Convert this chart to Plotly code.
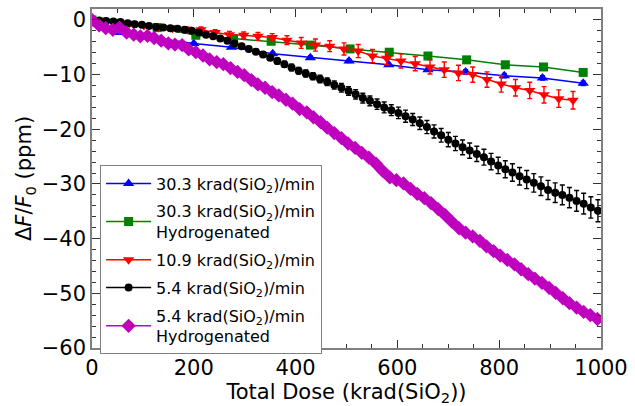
import plotly.graph_objects as go

# ---- data: frequency shift vs total dose for each dose rate ----
dose_303 = [0, 49, 200, 274, 355, 429, 505, 583, 660, 734, 810, 885, 965]
shift_303 = [0, -2.3, -4.3, -5.0, -6.2, -6.9, -7.5, -8.2, -9.1, -9.5, -10.2, -10.6, -11.6]
err_303 = [0, 0.2, 0.2, 0.2, 0.3, 0.3, 0.3, 0.3, 0.3, 0.4, 0.4, 0.4, 0.4]

dose_303h = [0, 128, 204, 278, 352, 429, 507, 584, 660, 736, 812, 887, 965]
shift_303h = [0, -1.4, -2.8, -3.4, -3.9, -4.6, -5.3, -5.9, -6.6, -7.3, -8.2, -8.6, -9.6]
err_303h = [0, 0.2, 0.2, 0.2, 0.2, 0.3, 0.3, 0.3, 0.3, 0.3, 0.4, 0.4, 0.5]

dose_109 = [0, 17, 46, 74, 102, 130, 158, 186, 214, 242, 270, 298, 326, 354, 383, 411,
            439, 467, 495, 523, 551, 579, 607, 635, 664, 692, 720, 748, 776, 804, 832,
            860, 888, 917, 945]
shift_109 = [0, 0, -0.3, -0.6, -1.0, -1.4, -1.5, -1.7, -1.8, -2.3, -2.7, -2.8, -3.0, -3.2,
             -3.7, -4.2, -4.6, -4.8, -5.3, -5.7, -6.6, -7.0, -7.5, -8.0, -8.6, -9.1, -9.7,
             -10.0, -10.9, -11.7, -12.4, -12.9, -13.7, -14.4, -14.7]
err_109 = [0, 0.1, 0.2, 0.2, 0.3, 0.3, 0.4, 0.4, 0.5, 0.5, 0.6, 0.6, 0.7, 0.7, 0.8, 1.0,
           1.1, 1.0, 1.1, 1.2, 1.2, 1.2, 1.3, 1.3, 1.3, 1.4, 1.4, 1.4, 1.4, 1.5, 1.5, 1.5,
           1.5, 1.6, 1.6]

dose_54 = [0, 14, 28, 42, 56, 70, 84, 98, 112, 126, 140, 154, 168, 182, 196, 210, 224,
           238, 252, 266, 280, 294, 308, 322, 336, 350, 364, 378, 392, 406, 420, 434, 448,
           462, 476, 490, 504, 518, 532, 546, 560, 574, 588, 602, 616, 630, 644, 658, 672,
           686, 700, 714, 728, 742, 756, 770, 784, 798, 812, 826, 840, 854, 868, 882, 896,
           910, 924, 938, 952, 966, 980, 994]
shift_54 = [0, -0.1, -0.2, -0.3, -0.4, -0.6, -0.8, -0.9, -1.1, -1.3, -1.4, -1.5, -1.6,
            -1.8, -2.0, -2.3, -2.7, -3.0, -3.4, -3.8, -4.3, -4.8, -5.3, -5.8, -6.3, -6.9,
            -7.5, -8.1, -8.7, -9.3, -9.8, -10.3, -10.8, -11.3, -11.9, -12.4, -13.0, -13.6,
            -14.3, -14.8, -15.4, -16.0, -16.5, -17.0, -17.6, -18.2, -18.9, -19.6, -20.4,
            -21.1, -21.9, -22.6, -23.3, -23.9, -24.5, -25.1, -25.9, -26.6, -27.3, -27.9,
            -28.6, -29.2, -29.8, -30.4, -31.1, -31.6, -32.0, -32.5, -33.1, -33.6, -34.3,
            -34.9]
err_54 = [0, 0.05, 0.05, 0.1, 0.1, 0.1, 0.1, 0.15, 0.15, 0.15, 0.2, 0.2, 0.2, 0.25, 0.25,
          0.3, 0.3, 0.3, 0.35, 0.35, 0.4, 0.4, 0.45, 0.45, 0.5, 0.5, 0.55, 0.55, 0.6, 0.6,
          0.65, 0.65, 0.7, 0.7, 0.75, 0.8, 0.8, 0.85, 0.9, 0.9, 0.95, 1.0, 1.0, 1.05, 1.1,
          1.1, 1.15, 1.2, 1.2, 1.25, 1.3, 1.3, 1.35, 1.4, 1.4, 1.45, 1.5, 1.5, 1.55, 1.6,
          1.6, 1.65, 1.7, 1.7, 1.75, 1.8, 1.8, 1.85, 1.9, 1.9, 1.95, 2.0]

dose_54h = [0, 14, 27, 41, 54, 68, 82, 95, 109, 122, 136, 150, 163, 177, 190, 204, 218,
            231, 245, 258, 272, 286, 299, 313, 326, 340, 354, 367, 381, 394, 408, 422, 435,
            449, 462, 476, 490, 503, 517, 530, 544, 558, 571, 585, 598, 612, 626, 639, 653,
            666, 680, 694, 707, 721, 734, 748, 762, 775, 789, 802, 816, 830, 843, 857, 870,
            884, 898, 911, 925, 938, 952, 966, 979, 993]
shift_54h = [0, -1.0, -1.5, -1.8, -1.4, -2.3, -2.7, -3.0, -2.9, -3.3, -3.8, -4.3, -4.5,
             -4.6, -5.4, -5.9, -6.5, -7.2, -7.7, -8.1, -8.8, -9.5, -10.1, -11.0, -11.8,
             -12.4, -13.2, -13.8, -14.6, -15.3, -16.3, -16.9, -17.8, -18.7, -19.7, -20.7,
             -21.6, -22.6, -23.4, -24.3, -25.2, -26.3, -27.6, -28.8, -29.3, -29.9, -30.9,
             -31.8, -32.6, -33.5, -34.6, -35.7, -36.9, -38.1, -38.9, -39.6, -40.4, -41.4,
             -42.3, -43.1, -43.9, -44.7, -45.6, -46.5, -47.3, -48.1, -49.0, -49.9, -50.9,
             -51.8, -52.6, -53.4, -54.0, -54.7]
err_54h = [0.5] * len(dose_54h)

series = [
    ("30.3 krad(SiO<sub>2</sub>)/min", dose_303, shift_303, err_303,
     "#0000ff", "triangle-up", 10),
    ("30.3 krad(SiO<sub>2</sub>)/min<br>Hydrogenated", dose_303h, shift_303h, err_303h,
     "#008000", "square", 9),
    ("10.9 krad(SiO<sub>2</sub>)/min", dose_109, shift_109, err_109,
     "#ff0000", "triangle-down", 10),
    ("5.4 krad(SiO<sub>2</sub>)/min", dose_54, shift_54, err_54,
     "#000000", "circle", 8),
    ("5.4 krad(SiO<sub>2</sub>)/min<br>Hydrogenated", dose_54h, shift_54h, err_54h,
     "#bf00bf", "diamond", 11),
]

fig = go.Figure()
for i, (name, x, y, e, color, symbol, size) in enumerate(series):
    fig.add_trace(go.Scatter(
        x=x, y=y, name=name, mode="lines+markers", legendgroup=f"g{i}",
        line=dict(color=color, width=1.5),
        marker=dict(color=color, symbol=symbol, size=size, line=dict(width=0)),
        error_y=dict(type="data", array=e, visible=True, color=color,
                     thickness=1.4, width=2.5),
    ))

font_family = "DejaVu Sans"
axis_common = dict(
    showline=True, linecolor="#808080", linewidth=1.5, mirror="ticks",
    ticks="inside", ticklen=8, tickwidth=1, tickcolor="#333333",
    showgrid=False, zeroline=False,
    tickfont=dict(family=font_family, size=21, color="black"),
)

fig.update_xaxes(
    range=[0, 1000], tickvals=[0, 200, 400, 600, 800, 1000],
    minor=dict(ticks="inside", dtick=50, ticklen=4, tickcolor="#333333"),
    title=dict(text="Total Dose (krad(SiO<sub>2</sub>))",
               font=dict(family=font_family, size=21, color="black"), standoff=4),
    **axis_common,
)
fig.update_yaxes(
    range=[-60, 2], tickvals=[0, -10, -20, -30, -40, -50, -60],
    minor=dict(ticks="inside", dtick=2, ticklen=4, tickcolor="#333333"),
    title=dict(text="Δ<i>F</i>/<i>F</i><sub>0</sub> (ppm)",
               font=dict(family=font_family, size=21, color="black"), standoff=4),
    **axis_common,
)

fig.update_layout(
    width=635, height=406,
    margin=dict(l=92, r=28, t=7, b=56),
    paper_bgcolor="white", plot_bgcolor="white",
    showlegend=True,
    legend=dict(
        x=0.0155, y=0.539, xanchor="left", yanchor="top",
        bgcolor="white", bordercolor="#808080", borderwidth=1.2,
        font=dict(family=font_family, size=16, color="black"),
        itemwidth=45, tracegroupgap=4,
    ),
)

fig.write_html("out.html")
